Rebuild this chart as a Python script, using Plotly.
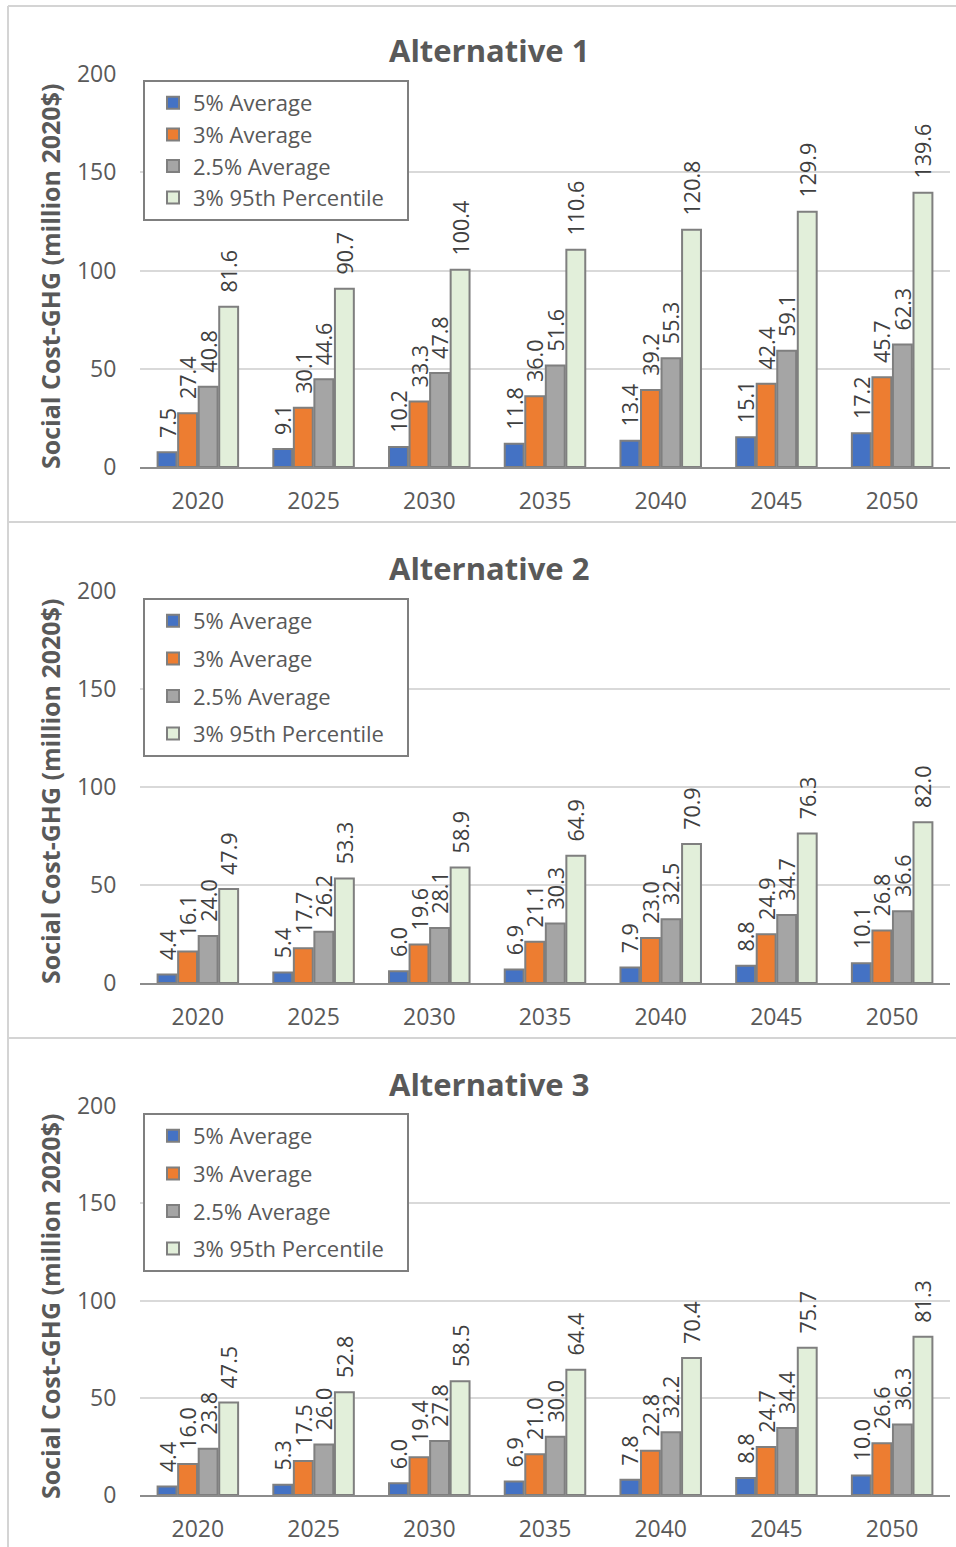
import plotly.graph_objects as go

years = ["2020", "2025", "2030", "2035", "2040", "2045", "2050"]
series_names = ["5% Average", "3% Average", "2.5% Average", "3% 95th Percentile"]
panel_titles = ["Alternative 1", "Alternative 2", "Alternative 3"]
y_title = "Social Cost-GHG (million 2020$)"
y_ticks = [0, 50, 100, 150, 200]

alt1_5 = [7.5, 9.1, 10.2, 11.8, 13.4, 15.1, 17.2]
alt1_3 = [27.4, 30.1, 33.3, 36.0, 39.2, 42.4, 45.7]
alt1_25 = [40.8, 44.6, 47.8, 51.6, 55.3, 59.1, 62.3]
alt1_95 = [81.6, 90.7, 100.4, 110.6, 120.8, 129.9, 139.6]

alt2_5 = [4.4, 5.4, 6.0, 6.9, 7.9, 8.8, 10.1]
alt2_3 = [16.1, 17.7, 19.6, 21.1, 23.0, 24.9, 26.8]
alt2_25 = [24.0, 26.2, 28.1, 30.3, 32.5, 34.7, 36.6]
alt2_95 = [47.9, 53.3, 58.9, 64.9, 70.9, 76.3, 82.0]

alt3_5 = [4.4, 5.3, 6.0, 6.9, 7.8, 8.8, 10.0]
alt3_3 = [16.0, 17.5, 19.4, 21.0, 22.8, 24.7, 26.6]
alt3_25 = [23.8, 26.0, 27.8, 30.0, 32.2, 34.4, 36.3]
alt3_95 = [47.5, 52.8, 58.5, 64.4, 70.4, 75.7, 81.3]

panels = [
    [alt1_5, alt1_3, alt1_25, alt1_95],
    [alt2_5, alt2_3, alt2_25, alt2_95],
    [alt3_5, alt3_3, alt3_25, alt3_95],
]
colors = ["#4472C4", "#ED7D31", "#A5A5A5", "#E2EFDA"]

W, H = 956, 1547
FONT = "Open Sans"
GRAY = "#595959"
NB = "\u00a0"


def px(v):
    return v / W


def py(v):
    return 1 - v / H


# plot-area pixel geometry (top of 200, bottom of 0) for each panel
plot_tb = [(74, 467), (591, 983), (1106, 1495)]
title_y = [50, 568, 1084]
ytitle_y = [277, 792, 1307]
legend_top = [80, 598, 1113]
legend_gap = [0, 6, 6]

fig = go.Figure()
layout = dict(
    width=W, height=H,
    margin=dict(l=0, r=0, t=0, b=0, autoexpand=False),
    paper_bgcolor="white", plot_bgcolor="white",
    barmode="group", bargap=0.29, bargroupgap=0.08,
    font=dict(family=FONT, color=GRAY),
    showlegend=True,
)
annotations = []
shapes = []

for p, vals in enumerate(panels):
    sfx = "" if p == 0 else str(p + 1)
    leg = "legend" if p == 0 else "legend" + str(p + 1)
    for s, (name, v, c) in enumerate(zip(series_names, vals, colors)):
        fig.add_trace(go.Bar(
            x=years, y=v, name=name + NB * 3,
            marker=dict(color=c, line=dict(color="#7F7F7F", width=2)),
            text=[NB * 2 + f"{t:.1f}" for t in v],
            textposition="outside", textangle=-90, constraintext="none",
            cliponaxis=False,
            textfont=dict(family=FONT, size=21.5, color="#404040"),
            xaxis="x" + sfx, yaxis="y" + sfx,
            legend=leg, legendgroup=f"g{p}_{s}",
        ))
    top, bot = plot_tb[p]
    layout["xaxis" + sfx] = dict(
        domain=[px(140), px(950)], anchor="y" + sfx, type="category",
        automargin=False,
        showline=True, linecolor="#8C8C8C", linewidth=2,
        ticks="outside", ticklen=12, tickcolor="rgba(0,0,0,0)",
        tickfont=dict(family=FONT, size=23, color=GRAY),
        showgrid=False, fixedrange=True,
    )
    layout["yaxis" + sfx] = dict(
        domain=[py(bot), py(top)], anchor="x" + sfx, range=[0, 200],
        automargin=False,
        tickvals=y_ticks, showgrid=True, gridcolor="#D9D9D9", gridwidth=2,
        zeroline=False, showline=False,
        ticks="outside", ticklen=18, tickcolor="rgba(0,0,0,0)",
        tickfont=dict(family=FONT, size=23, color=GRAY),
        fixedrange=True,
    )
    layout[leg] = dict(
        x=px(143), y=py(legend_top[p]), xanchor="left", yanchor="top",
        bgcolor="white", bordercolor="#7F7F7F", borderwidth=2,
        font=dict(family=FONT, size=22, color=GRAY),
        tracegroupgap=legend_gap[p], indentation=8,
    )
    annotations.append(dict(
        text="<b>" + panel_titles[p] + "</b>", x=px(489), y=py(title_y[p]),
        xref="paper", yref="paper", showarrow=False,
        xanchor="center", yanchor="middle",
        font=dict(family=FONT, size=31, color=GRAY),
    ))
    annotations.append(dict(
        text="<b>" + y_title + "</b>", x=px(50), y=py(ytitle_y[p]),
        xref="paper", yref="paper", showarrow=False, textangle=-90,
        xanchor="center", yanchor="middle",
        font=dict(family=FONT, size=25, color=GRAY),
    ))

# panel frames
line = dict(color="#D4D4D4", width=2)
shapes.append(dict(type="line", xref="paper", yref="paper",
                   x0=px(8), x1=1, y0=py(6), y1=py(6), line=line))
shapes.append(dict(type="line", xref="paper", yref="paper",
                   x0=px(8), x1=px(8), y0=py(6), y1=0, line=line))
for yy in (522, 1038):
    shapes.append(dict(type="line", xref="paper", yref="paper",
                       x0=px(8), x1=1, y0=py(yy), y1=py(yy), line=line))

layout["annotations"] = annotations
layout["shapes"] = shapes
fig.update_layout(**layout)
fig.write_html(
    "out.html",
    config={"displayModeBar": False},
    post_script=(
        "document.body.style.margin='0';document.body.style.overflow='hidden';"
    ),
)
